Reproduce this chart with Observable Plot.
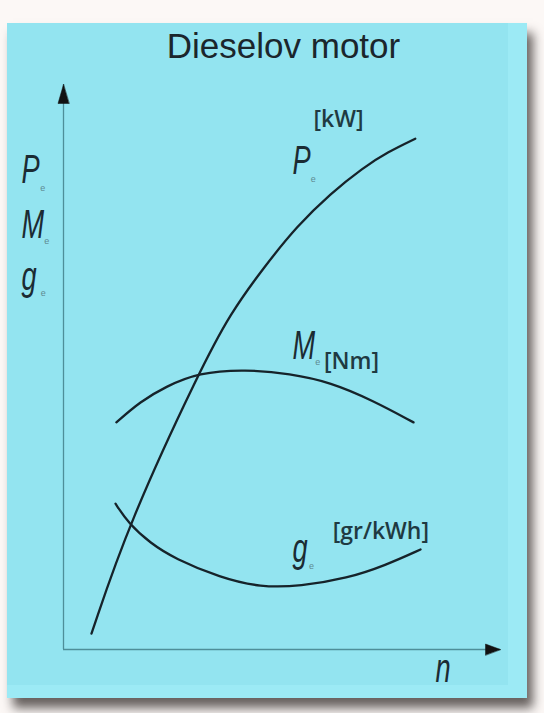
<!DOCTYPE html>
<html>
<head>
<meta charset="utf-8">
<script src="https://cdn.jsdelivr.net/npm/d3@7"></script>
<script src="https://cdn.jsdelivr.net/npm/@observablehq/plot@0.6"></script>
<style>
  html, body { margin: 0; padding: 0; background: #fcf8f6; }
  #wrap { position: relative; width: 544px; height: 713px; overflow: hidden; }
  #shadow { position: absolute; left: 7px; top: 23px; width: 520px; height: 675px;
            box-shadow: 6px 10px 10px rgba(95,88,86,0.95); background: #9ceaf5; }
  #inner { position: absolute; left: 7px; top: 23px; width: 501px; height: 662px; background: #93e4f0; }
  #chart { position: absolute; left: 0; top: 0; }
</style>
</head>
<body>
<div id="wrap">
  <div id="shadow"></div>
  <div id="inner"></div>
  <div id="chart"></div>
</div>
<script>
// Engine speed n (0..100, relative units) and curve values (0..100, relative units)
const peN = [6.4, 14.9, 31.4, 38.2, 45.8, 53.5, 61.1, 68.6, 74.1, 80.5];
const peV = [2.8, 22.3, 49.7, 59.5, 67.6, 75.0, 80.7, 85.3, 88.0, 90.4];

const meN = [12.1, 17.6, 23.3, 30.9, 41.6, 51.9, 61.1, 70.7, 80.1];
const meV = [40.2, 43.9, 46.5, 49.0, 49.6, 48.8, 47.3, 44.1, 40.2];

const geN = [11.9, 14.9, 19.9, 25.4, 35.9, 45.1, 54.2, 65.0, 73.7, 81.7];
const geV = [25.8, 22.3, 18.8, 16.1, 12.7, 11.0, 11.2, 12.6, 14.9, 17.7];

// Annotations (in the same relative units)
const titleText = ["Dieselov motor"];
const symText = ["P", "M", "g", "P", "M", "g", "n"];
const symN = [-9.6, -9.6, -9.6, 52.4, 52.4, 52.4, 85.1];
const symV = [82.5, 72.9, 63.7, 84.2, 51.5, 15.4, -5.8];
const subText = ["e", "e", "e", "e", "e", "e"];
const subN = [-5.3, -4.4, -5.2, 56.6, 57.6, 56.2];
const subV = [81.2, 71.7, 62.5, 82.7, 50.4, 14.3];
const unitText = ["[kW]", "[Nm]", "[gr/kWh]"];
const unitN = [57.2, 59.6, 61.6];
const unitV = [92.4, 49.7, 19.6];

const axisN = [0];
const axisV = [0];
const nMax = 100, vMax = 100;

const rows = (xs, ys, name) => xs.map((x, i) => ({n: x, v: ys[i], s: name}));
const curves = [...rows(peN, peV, "Pe"), ...rows(meN, meV, "Me"), ...rows(geN, geV, "ge")];
const syms = symText.map((t, i) => ({t, n: symN[i], v: symV[i]}));
const subs = subText.map((t, i) => ({t, n: subN[i], v: subV[i]}));
const units = unitText.map((t, i) => ({t, n: unitN[i], v: unitV[i]}));

const head = (w) => ({
  draw(context, l) {
    context.moveTo(0, -l);
    context.lineTo(-w, 0);
    context.lineTo(w, 0);
    context.closePath();
  }
});

const ink = "#16232a";
const chart = Plot.plot({
  width: 544,
  height: 713,
  marginLeft: 63,
  marginRight: 44,
  marginTop: 84,
  marginBottom: 64,
  x: {domain: [0, nMax], axis: null},
  y: {domain: [0, vMax], axis: null},
  style: {background: "transparent", overflow: "visible"},
  marks: [
    Plot.ruleY(axisV, {stroke: "#4e8e99", strokeWidth: 1.3}),
    Plot.ruleX(axisN, {stroke: "#4e8e99", strokeWidth: 1.3}),
    Plot.vector(axisN, {x: d => d, y: vMax, length: 19, anchor: "end", rotate: 0,
      shape: head(5.5), fill: "#111", stroke: "#111", strokeWidth: 0.5}),
    Plot.vector(axisV, {x: nMax, y: d => d, length: 15, anchor: "end", rotate: 90,
      shape: head(5.5), fill: "#111", stroke: "#111", strokeWidth: 0.5}),
    Plot.line(curves, {x: "n", y: "v", z: "s", curve: "basis",
      stroke: ink, strokeWidth: 2.3}),
    Plot.text(titleText, {frameAnchor: "top", dy: -27, dx: 1.5, lineAnchor: "bottom",
      fontSize: 35, fontFamily: "Liberation Sans, Arial, sans-serif", fill: "#1b262c"}),
    Plot.text(syms, {x: "n", y: "v", text: "t", textAnchor: "start", lineAnchor: "bottom",
      fontSize: 40, fontStyle: "italic", fontFamily: "Liberation Sans, Arial, sans-serif", fill: "#1b2b33"}),
    Plot.text(subs, {x: "n", y: "v", text: "t", textAnchor: "start", lineAnchor: "bottom",
      fontSize: 9, fontFamily: "Liberation Sans, Arial, sans-serif", fill: "#5f8a92"}),
    Plot.text(units, {x: "n", y: "v", text: "t", textAnchor: "start", lineAnchor: "bottom",
      fontSize: 23, fontWeight: 600, fontFamily: "Open Sans, sans-serif", fill: "#1f3a42"})
  ]
});
// condense the italic symbol letters horizontally, as in the reference
d3.select(chart).selectAll('g[font-style="italic"] text').each(function() {
  const t = this.getAttribute("transform") || "";
  this.setAttribute("transform", t + " scale(0.68,1)");
});
document.getElementById("chart").appendChild(chart);
</script>
</body>
</html>
